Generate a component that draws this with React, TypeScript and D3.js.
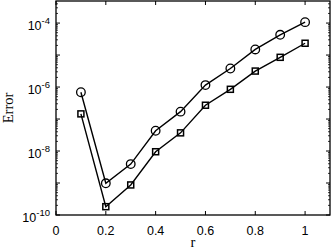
import React from "react";
import * as d3 from "d3";

// r values
const rValues = [0.1, 0.2, 0.3, 0.4, 0.5, 0.6, 0.7, 0.8, 0.9, 1.0];
// error series (circles, squares)
const errCircle = [6.9e-7, 9.8e-10, 3.9e-9, 4.3e-8, 1.7e-7, 1.15e-6, 3.8e-6, 1.5e-5, 4.3e-5, 1.07e-4];
const errSquare = [1.45e-7, 1.82e-10, 8.7e-10, 9.5e-9, 3.7e-8, 2.7e-7, 8.5e-7, 3.16e-6, 8.5e-6, 2.34e-5];
const xTicks = [0, 0.2, 0.4, 0.6, 0.8, 1];
const yTickExps = [-10, -8, -6, -4];

const W = 332;
const H = 251;
const left = 56, right = 330, top = 1, bottom = 215;

export default function App() {
  const x = d3.scaleLinear().domain([0, 1.1]).range([left, right]);
  const y = d3.scaleLog().domain([1e-10, Math.pow(10, -3.31)]).range([bottom, top]);

  const line = d3
    .line<number>()
    .x((d, i) => x(rValues[i]))
    .y((d) => y(d));

  const minor: number[] = [];
  for (let e = -10; e <= -4; e++) {
    for (let k = 2; k <= 9; k++) {
      const v = k * Math.pow(10, e);
      if (v < y.domain()[1]) minor.push(v);
    }
  }
  const majors: number[] = [];
  for (let e = -10; e <= -4; e++) majors.push(Math.pow(10, e));

  const tickFont = "'Liberation Sans', Arial, sans-serif";
  const serif = "'Liberation Serif', 'Times New Roman', serif";

  return (
    <svg
      width={W}
      height={H}
      style={{ position: "absolute", left: 0, top: 0, background: "#fff" }}
    >
      <rect x={0} y={0} width={W} height={H} fill="#fff" />

      {/* minor y ticks */}
      {minor.map((v, i) => (
        <g key={"m" + i} stroke="#000" strokeWidth={0.8}>
          <line x1={left} x2={left + 2} y1={y(v)} y2={y(v)} />
          <line x1={right} x2={right - 2} y1={y(v)} y2={y(v)} />
        </g>
      ))}
      {/* major y ticks */}
      {majors.map((v, i) => (
        <g key={"M" + i} stroke="#000" strokeWidth={1}>
          <line x1={left} x2={left + 4} y1={y(v)} y2={y(v)} />
          <line x1={right} x2={right - 4} y1={y(v)} y2={y(v)} />
        </g>
      ))}
      {/* x ticks */}
      {xTicks.map((t, i) => (
        <g key={"x" + i} stroke="#000" strokeWidth={1}>
          <line x1={x(t)} x2={x(t)} y1={bottom} y2={bottom - 4} />
          <line x1={x(t)} x2={x(t)} y1={top} y2={top + 4} />
        </g>
      ))}

      {/* frame */}
      <rect
        x={left}
        y={top}
        width={right - left}
        height={bottom - top}
        fill="none"
        stroke="#000"
        strokeWidth={1.3}
      />

      {/* x tick labels */}
      {xTicks.map((t, i) => (
        <text
          key={"xl" + i}
          x={x(t)}
          y={235}
          textAnchor="middle"
          fontFamily={tickFont}
          fontSize={12.5}
          fill="#000"
        >
          {String(t)}
        </text>
      ))}
      {/* y tick labels */}
      {yTickExps.map((e, i) => (
        <text
          key={"yl" + i}
          x={50}
          y={y(Math.pow(10, e)) + 7}
          textAnchor="end"
          fontFamily={tickFont}
          fontSize={12.5}
          fill="#000"
        >
          10
          <tspan dy={-6} fontSize={9.5}>
            {"-" + Math.abs(e)}
          </tspan>
        </text>
      ))}

      {/* series */}
      <path d={line(errCircle) || ""} fill="none" stroke="#000" strokeWidth={1.4} />
      <path d={line(errSquare) || ""} fill="none" stroke="#000" strokeWidth={1.4} />
      {errCircle.map((v, i) => (
        <circle
          key={"c" + i}
          cx={x(rValues[i])}
          cy={y(v)}
          r={4.3}
          fill="none"
          stroke="#000"
          strokeWidth={1.3}
        />
      ))}
      {errSquare.map((v, i) => (
        <rect
          key={"s" + i}
          x={x(rValues[i]) - 3}
          y={y(v) - 3}
          width={6}
          height={6}
          fill="none"
          stroke="#000"
          strokeWidth={1.5}
        />
      ))}

      {/* axis labels */}
      <text
        transform={`translate(13,108) rotate(-90)`}
        textAnchor="middle"
        fontFamily={serif}
        fontSize={14.5}
        fill="#000"
      >
        Error
      </text>
      <text
        x={(left + right) / 2}
        y={247}
        textAnchor="middle"
        fontFamily={serif}
        fontSize={14.5}
        fill="#000"
      >
        r
      </text>
    </svg>
  );
}
